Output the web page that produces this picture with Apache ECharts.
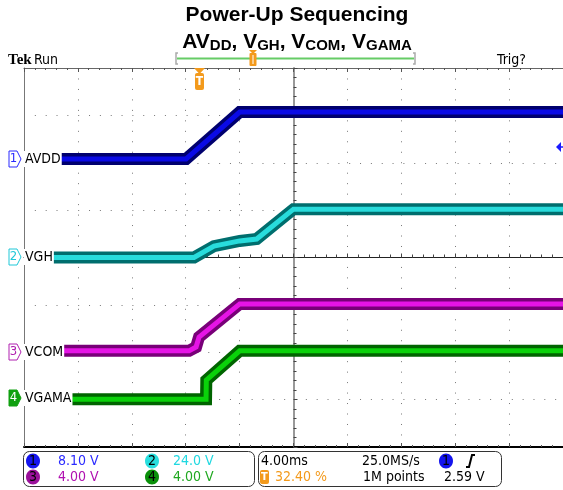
<!DOCTYPE html>
<html>
<head>
<meta charset="utf-8">
<script src="https://cdn.jsdelivr.net/npm/echarts@6/dist/echarts.min.js"></script>
<style>
  html, body { margin: 0; padding: 0; background: #fff; }
  #chart { width: 563px; height: 490px; }
</style>
</head>
<body>
<div id="chart"></div>
<script>
// time in ms (4.00 ms/div, centre = 0), value in divisions (centre = 0)
const avddT = [-17.34, -7.97, -3.99, 20];
const avddV = [2.08, 2.08, 3.07, 3.07];
const vghT = [-17.93, -7.38, -5.90, -3.99, -2.73, 0, 20];
const vghV = [0.0, 0.0, 0.24, 0.35, 0.39, 1.02, 1.02];
const vcomT = [-17.27, -7.75, -7.23, -7.01, -3.99, 20];
const vcomV = [-1.97, -1.97, -1.89, -1.68, -0.98, -0.98];
const vgamaT = [-16.6, -6.49, -6.47, -3.99, 20];
const vgamaV = [-2.99, -2.99, -2.59, -1.97, -1.97];

const chNames = ['AVDD', 'VGH', 'VCOM', 'VGAMA'];
const chScale = ['8.10 V', '24.0 V', '4.00 V', '4.00 V'];

const cond = "'DejaVu Sans Condensed', 'Liberation Sans Narrow', 'DejaVu Sans', sans-serif";

const traces = [
  {t: avddT, v: avddV, outer: '#00006e', inner: '#0a0ae6'},
  {t: vghT, v: vghV, outer: '#006e6e', inner: '#28dcdc'},
  {t: vcomT, v: vcomV, outer: '#780078', inner: '#e614e6'},
  {t: vgamaT, v: vgamaV, outer: '#006400', inner: '#0ad20a'}
];

let series = [];
traces.forEach((tr, i) => {
  let data = tr.t.map((x, k) => [x, tr.v[k]]);
  series.push({
    type: 'line', data: data, symbol: 'none', silent: true, z: 3,
    lineStyle: {color: tr.outer, width: 12, join: 'miter'}
  });
  series.push({
    type: 'line', data: data, symbol: 'none', silent: true, z: 4,
    lineStyle: {color: tr.inner, width: 5, join: 'miter'}
  });
});

// put every child of a graphic group on the same z
function grp(x, y, z, children) {
  children.forEach(c => { c.z = z; });
  return {type: 'group', x: x, y: y, children: children};
}

// channel label on the left edge
function chLabel(num, name, cy, color, filled) {
  return grp(9, cy - 8, 20, [
    {type: 'polygon', shape: {points: [[0, 0], [8, 0], [12, 8], [8, 16], [0, 16]]},
      style: {fill: filled ? color : '#fff', stroke: color, lineWidth: 1}},
    {type: 'text', x: 4.5, y: 8, style: {text: num, font: '13px ' + cond,
      fill: filled ? '#fff' : color, align: 'center', verticalAlign: 'middle'}},
    {type: 'text', x: 15, y: 8, style: {text: name, font: '14px ' + cond, fill: '#000',
      align: 'left', verticalAlign: 'middle', backgroundColor: '#fff', padding: [1, 1, 1, 1]}}
  ]);
}

function circleNum(cx, cy, num, color) {
  return grp(cx, cy, 21, [
    {type: 'ellipse', shape: {cx: 0, cy: 0, rx: 7, ry: 7.5}, style: {fill: color}},
    {type: 'text', style: {text: num, font: '14px ' + cond, fill: '#000', align: 'center', verticalAlign: 'middle'}}
  ]);
}

function panelText(x, y, text, color) {
  return {type: 'text', x: x, y: y, z: 21,
    style: {text: text, font: '14px ' + cond, fill: color, align: 'left', verticalAlign: 'middle'}};
}

let chart = echarts.init(document.getElementById('chart'));
chart.setOption({
  animation: false,
  backgroundColor: '#fff',
  grid: {left: 24, top: 68, width: 542, height: 379},
  xAxis: [{
    type: 'value', min: -20, max: 20, interval: 4,
    axisLine: {show: true, onZero: true, lineStyle: {color: '#222', width: 1}},
    axisTick: {show: true, inside: true, length: 4, lineStyle: {color: '#444'}},
    minorTick: {show: true, splitNumber: 5, length: 3, lineStyle: {color: '#444'}},
    axisLabel: {show: false},
    splitLine: {show: true, lineStyle: {color: '#777', width: 1, type: [1, 9.47]}}
  }, {
    type: 'value', min: -20, max: 20, interval: 4, position: 'bottom',
    axisLine: {show: true, onZero: false, lineStyle: {color: '#000', width: 2}},
    axisTick: {show: true, inside: true, length: 4, lineStyle: {color: '#555'}},
    minorTick: {show: true, splitNumber: 5, length: 2, lineStyle: {color: '#555'}},
    axisLabel: {show: false}, splitLine: {show: false}
  }, {
    type: 'value', min: -20, max: 20, interval: 4, position: 'top',
    axisLine: {show: true, onZero: false, lineStyle: {color: '#666', width: 1}},
    axisTick: {show: true, inside: true, length: 4, lineStyle: {color: '#555'}},
    minorTick: {show: true, splitNumber: 5, length: 2, lineStyle: {color: '#555'}},
    axisLabel: {show: false}, splitLine: {show: false}
  }],
  yAxis: [{
    type: 'value', min: -4, max: 4, interval: 1,
    axisLine: {show: true, onZero: true, onZeroAxisIndex: 0, lineStyle: {color: '#999', width: 2}},
    axisTick: {show: true, inside: true, length: 4, lineStyle: {color: '#444'}},
    minorTick: {show: true, splitNumber: 5, length: 3, lineStyle: {color: '#444'}},
    axisLabel: {show: false},
    splitLine: {show: true, lineStyle: {color: '#777', width: 1, type: [1, 9.84]}}
  }, {
    type: 'value', min: -4, max: 4, interval: 1, position: 'left',
    axisLine: {show: true, onZero: false, lineStyle: {color: '#777', width: 1}},
    axisTick: {show: false}, axisLabel: {show: false}, splitLine: {show: false}
  }],
  series: series,
  graphic: [
    {type: 'text', x: 297, y: 5, z: 20, style: {text: 'Power-Up Sequencing',
      font: 'bold 21px "Liberation Sans", Arial, sans-serif', fill: '#000', align: 'center'}},
    {type: 'text', x: 297, y: 29, z: 20, style: {
      text: '{m|AV}{s|DD}{m|, V}{s|GH}{m|, V}{s|COM}{m|, V}{s|GAMA}',
      align: 'center',
      rich: {
        m: {font: 'bold 21px "Liberation Sans", Arial, sans-serif', fill: '#000', lineHeight: 24, verticalAlign: 'bottom'},
        s: {font: 'bold 15px "Liberation Sans", Arial, sans-serif', fill: '#000', lineHeight: 12, verticalAlign: 'bottom'}
      }}},
    {type: 'text', x: 8, y: 60, z: 20, style: {text: 'Tek', font: 'bold 15px "Liberation Serif", serif',
      fill: '#000', verticalAlign: 'middle'}},
    {type: 'text', x: 34, y: 60, z: 20, style: {text: 'Run', font: '14px ' + cond, fill: '#000', verticalAlign: 'middle'}},
    {type: 'text', x: 497, y: 60, z: 20, style: {text: 'Trig?', font: '14px ' + cond, fill: '#000', verticalAlign: 'middle'}},
    // record-length bar
    {type: 'line', z: 20, shape: {x1: 177, y1: 58.5, x2: 414, y2: 58.5}, style: {stroke: '#66cc66', lineWidth: 2}},
    {type: 'polyline', z: 20, shape: {points: [[178, 53], [176, 53], [176, 64], [178, 64]]}, style: {stroke: '#aaa', lineWidth: 1.5, fill: null}},
    {type: 'polyline', z: 20, shape: {points: [[413, 53], [415, 53], [415, 64], [413, 64]]}, style: {stroke: '#aaa', lineWidth: 1.5, fill: null}},
    grp(253, 50, 21, [
      {type: 'polygon', shape: {points: [[-4, 0], [4, 0], [0, 4]]}, style: {fill: '#f39a1c'}},
      {type: 'rect', shape: {x: -3.5, y: 3, width: 7, height: 13, r: 1}, style: {fill: '#f39a1c'}},
      {type: 'line', shape: {x1: 0, y1: 5, x2: 0, y2: 14}, style: {stroke: '#fff', lineWidth: 1}}
    ]),
    // trigger position marker
    grp(199.5, 68, 21, [
      {type: 'polygon', shape: {points: [[-5.5, 0], [5.5, 0], [0, 6]]}, style: {fill: '#f39a1c'}},
      {type: 'rect', shape: {x: -4.5, y: 5, width: 9, height: 17, r: 2}, style: {fill: '#f39a1c'}},
      {type: 'text', x: 0, y: 14, style: {text: 'T', font: 'bold 12px ' + cond, fill: '#fff', align: 'center', verticalAlign: 'middle'}}
    ]),
    // trigger level arrow
    {type: 'polygon', z: 21, shape: {points: [[556, 147], [561, 142], [561, 152]]}, style: {fill: '#1a1aff'}},
    {type: 'line', z: 21, shape: {x1: 558, y1: 147, x2: 563, y2: 147}, style: {stroke: '#1a1aff', lineWidth: 1.5}},
    chLabel('1', chNames[0], 159, '#2a2aff', false),
    chLabel('2', chNames[1], 257, '#20c8d8', false),
    chLabel('3', chNames[2], 352, '#b020b0', false),
    chLabel('4', chNames[3], 398, '#10a010', true),
    // status panel
    {type: 'rect', z: 19, shape: {x: 23.5, y: 451.5, width: 231, height: 35, r: 6}, style: {fill: '#fff', stroke: '#333', lineWidth: 1}},
    {type: 'rect', z: 19, shape: {x: 258.5, y: 451.5, width: 243, height: 35, r: 6}, style: {fill: '#fff', stroke: '#333', lineWidth: 1}},
    circleNum(33, 461, '1', '#1414ee'),
    circleNum(152, 461, '2', '#28dede'),
    circleNum(33, 477, '3', '#9a109a'),
    circleNum(152, 477, '4', '#0a900a'),
    panelText(58, 461, chScale[0], '#2a2aff'),
    panelText(173, 461, chScale[1], '#20d8e0'),
    panelText(58, 477, chScale[2], '#b010b0'),
    panelText(173, 477, chScale[3], '#20a820'),
    panelText(261, 461, '4.00ms', '#000'),
    panelText(362, 461, '25.0MS/s', '#000'),
    circleNum(446, 461, '1', '#1414ee'),
    {type: 'polyline', z: 21, shape: {points: [[466, 467], [469, 467], [472, 455], [475, 455]]}, style: {stroke: '#000', lineWidth: 2, fill: null}},
    grp(264, 477, 21, [
      {type: 'rect', shape: {x: -4, y: -7, width: 9, height: 14, r: 2}, style: {fill: '#f39a1c'}},
      {type: 'text', x: 0.5, y: 0, style: {text: 'T', font: 'bold 11px ' + cond, fill: '#fff', align: 'center', verticalAlign: 'middle'}}
    ]),
    panelText(275, 477, '32.40 %', '#f39a1c'),
    panelText(363, 477, '1M points', '#000'),
    panelText(444, 477, '2.59 V', '#000')
  ]
});
</script>
</body>
</html>
